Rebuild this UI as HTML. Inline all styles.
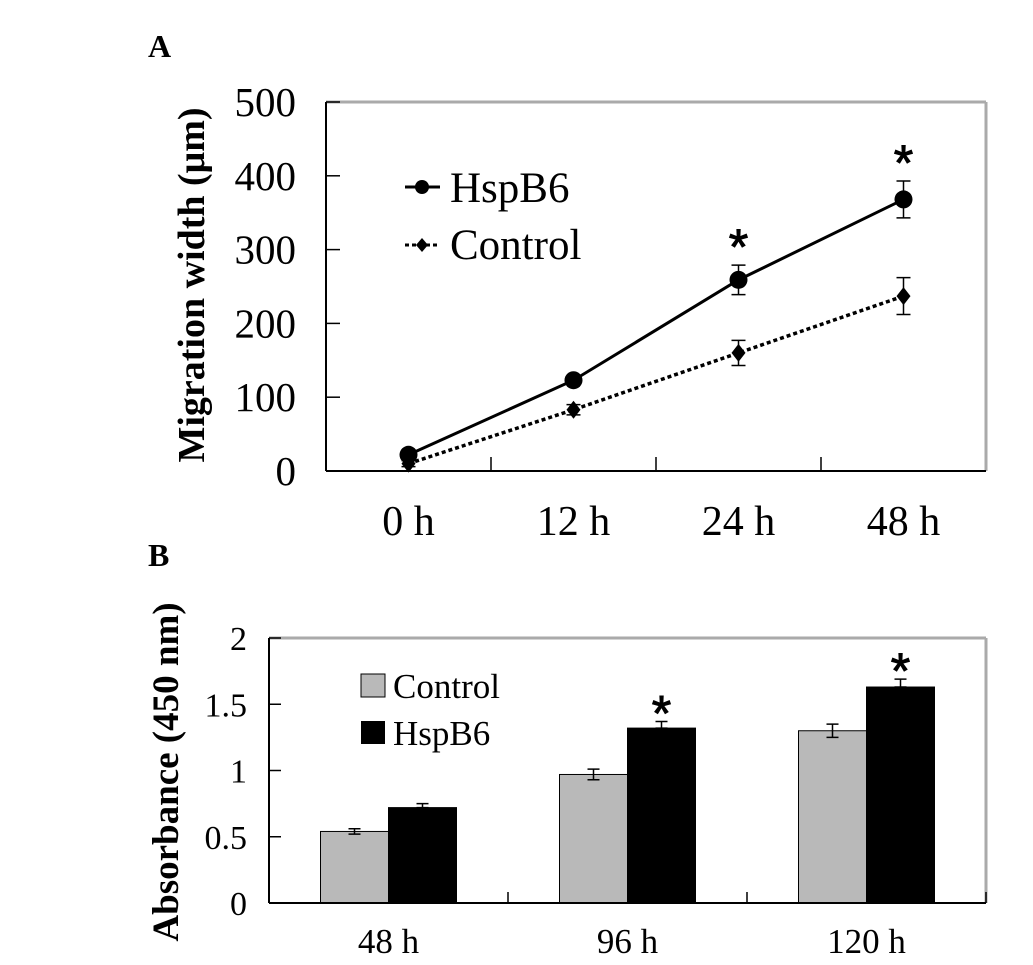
<!DOCTYPE html>
<html><head><meta charset="utf-8"><style>
html,body{margin:0;padding:0;background:#fff;}
svg{display:block;font-family:"Liberation Serif",serif;}
</style></head><body>
<svg id="fig" width="1033" height="965" viewBox="0 0 1033 965"></svg>
<script>
// Panel A data
const catsA = ["0 h","12 h","24 h","48 h"];
const hspA = [22,123,259,368];
const hspAErr = [6,6,20,25];
const ctlA = [10,83,160,237];
const ctlAErr = [4,7,17,25];
const sigA = [false,false,true,true];
const ticksA = [0,100,200,300,400,500];
// Panel B data
const catsB = ["48 h","96 h","120 h"];
const ctlB = [0.54,0.97,1.30];
const ctlBErr = [0.02,0.04,0.05];
const hspB = [0.72,1.32,1.63];
const hspBErr = [0.03,0.05,0.06];
const sigB = [false,true,true];
const ticksB = [0,0.5,1,1.5,2];
const ticksBLbl = ["0","0.5","1","1.5","2"];

const svg=document.getElementById('fig');
const NS="http://www.w3.org/2000/svg";
function mk(tag,attrs,name,parent){const e=document.createElementNS(NS,tag);for(const k in attrs)e.setAttribute(k,attrs[k]);


(parent||svg).appendChild(e);return e;}
function txt(x,y,s,size,name,opts){const t=mk('text',Object.assign({x:x,y:y,'font-size':size,fill:'#000'},opts||{}),name);t.textContent=s;return t;}
function star(x,cy,name){txt(x,cy+27,"*",50,name,{'text-anchor':'middle','font-family':'"Liberation Sans",sans-serif','stroke':'#000','stroke-width':1});}

// ---- Panel A ----
const aL=326,aR=986,aT=102,aB=471,aMax=500;
const yA=v=>aB-(v/aMax)*(aB-aT);
const bwA=(aR-aL)/catsA.length;
const xA=i=>aL+bwA*(i+0.5);
txt(148,57,"A",32,"panel-a-label",{'font-weight':'bold'});
mk('line',{x1:aL,y1:aT,x2:aR,y2:aT,stroke:'#aaa','stroke-width':3},'plot-a-top-border');
mk('line',{x1:aR,y1:aT,x2:aR,y2:aB,stroke:'#aaa','stroke-width':3},'plot-a-right-border');
mk('line',{x1:aL,y1:aT,x2:aL,y2:aB,stroke:'#000','stroke-width':2},'y-axis-a');
mk('line',{x1:aL,y1:aB,x2:aR,y2:aB,stroke:'#000','stroke-width':2},'x-axis-a');
ticksA.forEach(v=>{mk('line',{x1:aL,y1:yA(v),x2:aL+14,y2:yA(v),stroke:'#000','stroke-width':1.5},'y-tick-a');
txt(aL-30,yA(v)+14,String(v),41,'y-tick-label-a',{'text-anchor':'end'});});
catsA.forEach((c,i)=>{if(i>0)mk('line',{x1:aL+bwA*i,y1:aB,x2:aL+bwA*i,y2:aB-14,stroke:'#000','stroke-width':1.5},'x-tick-a');
txt(xA(i),535,c,42,'x-tick-label-a',{'text-anchor':'middle'});});
txt(0,0,"Migration width (μm)",38,'y-axis-title-a',{'font-weight':'bold','text-anchor':'middle',transform:'translate(204,285) rotate(-90)'});
mk('polyline',{points:ctlA.map((v,i)=>xA(i)+','+yA(v)).join(' '),fill:'none',stroke:'#000','stroke-width':3.5,'stroke-dasharray':'4,3'},'control-line');
mk('polyline',{points:hspA.map((v,i)=>xA(i)+','+yA(v)).join(' '),fill:'none',stroke:'#000','stroke-width':3},'hspb6-line');
function err(x,y1,y2,w,name){mk('path',{d:`M${x},${y1}V${y2}M${x-w},${y1}H${x+w}M${x-w},${y2}H${x+w}`,stroke:'#000','stroke-width':1.5,fill:'none'},name);}
ctlA.forEach((v,i)=>{err(xA(i),yA(v-ctlAErr[i]),yA(v+ctlAErr[i]),7,'control-error-bar');
const x=xA(i),y=yA(v);mk('path',{d:`M${x},${y-9}L${x+7},${y}L${x},${y+9}L${x-7},${y}Z`,fill:'#000'},'control-point');});
hspA.forEach((v,i)=>{err(xA(i),yA(v-hspAErr[i]),yA(v+hspAErr[i]),7,'hspb6-error-bar');
mk('circle',{cx:xA(i),cy:yA(v),r:9,fill:'#000'},'hspb6-point');
if(sigA[i])star(xA(i),yA(v+hspAErr[i])-28,'significance-star-a');});
// legend A
mk('line',{x1:405,y1:187,x2:440,y2:187,stroke:'#000','stroke-width':3},'legend-hspb6-line');
mk('circle',{cx:422,cy:187,r:7,fill:'#000'},'legend-hspb6-marker');
txt(450,202,"HspB6",43,'legend-hspb6-label');
mk('line',{x1:405,y1:245,x2:440,y2:245,stroke:'#000','stroke-width':3,'stroke-dasharray':'4,3'},'legend-control-line');
mk('path',{d:'M422,238L428,245L422,252L416,245Z',fill:'#000'},'legend-control-marker');
txt(450,259,"Control",43,'legend-control-label');

// ---- Panel B ----
const bL=269,bR=986,bT=638,bB=903,bMax=2;
const yB=v=>bB-(v/bMax)*(bB-bT);
const bwB=(bR-bL)/catsB.length;
const barW=68;
txt(148,566,"B",32,"panel-b-label",{'font-weight':'bold'});
mk('line',{x1:bL,y1:bT,x2:bR,y2:bT,stroke:'#aaa','stroke-width':3},'plot-b-top-border');
mk('line',{x1:bR,y1:bT,x2:bR,y2:bB,stroke:'#aaa','stroke-width':3},'plot-b-right-border');
ctlB.forEach((v,i)=>{const c=bL+bwB*(i+0.5);
mk('rect',{x:c-barW,y:yB(v),width:barW,height:bB-yB(v),fill:'#b9b9b9',stroke:'#000','stroke-width':1},'bar-control-'+catsB[i].replace(' ',''));
err(c-barW/2,yB(v-ctlBErr[i]),yB(v+ctlBErr[i]),6,'control-bar-error');});
hspB.forEach((v,i)=>{const c=bL+bwB*(i+0.5);
mk('rect',{x:c,y:yB(v),width:barW,height:bB-yB(v),fill:'#000',stroke:'#000','stroke-width':1},'bar-hspb6-'+catsB[i].replace(' ',''));
err(c+barW/2,yB(v),yB(v+hspBErr[i]),6,'hspb6-bar-error');
if(sigB[i])star(c+barW/2,yB(v+hspBErr[i])-18,'significance-star-b');});
mk('line',{x1:bL,y1:bT,x2:bL,y2:bB,stroke:'#000','stroke-width':2},'y-axis-b');
mk('line',{x1:bL,y1:bB,x2:bR,y2:bB,stroke:'#000','stroke-width':2},'x-axis-b');
ticksB.forEach((v,i)=>{mk('line',{x1:bL,y1:yB(v),x2:bL+12,y2:yB(v),stroke:'#000','stroke-width':1.5},'y-tick-b');
txt(bL-22,yB(v)+12,ticksBLbl[i],34,'y-tick-label-b',{'text-anchor':'end'});});
catsB.forEach((c,i)=>{mk('line',{x1:bL+bwB*(i+1),y1:bB,x2:bL+bwB*(i+1),y2:bB-11,stroke:'#000','stroke-width':1.5},'x-tick-b');
txt(bL+bwB*(i+0.5),953,c,35,'x-tick-label-b',{'text-anchor':'middle'});});
txt(0,0,"Absorbance (450 nm)",37,'y-axis-title-b',{'font-weight':'bold','text-anchor':'middle',transform:'translate(178,772) rotate(-90)'});
// legend B
mk('rect',{x:361,y:674,width:24,height:23,fill:'#b9b9b9',stroke:'#000','stroke-width':1},'legend-control-swatch');
txt(393,698,"Control",35,'legend-control-label-b');
mk('rect',{x:361,y:721,width:24,height:23,fill:'#000'},'legend-hspb6-swatch');
txt(393,745,"HspB6",35,'legend-hspb6-label-b');
</script>
</body></html>
